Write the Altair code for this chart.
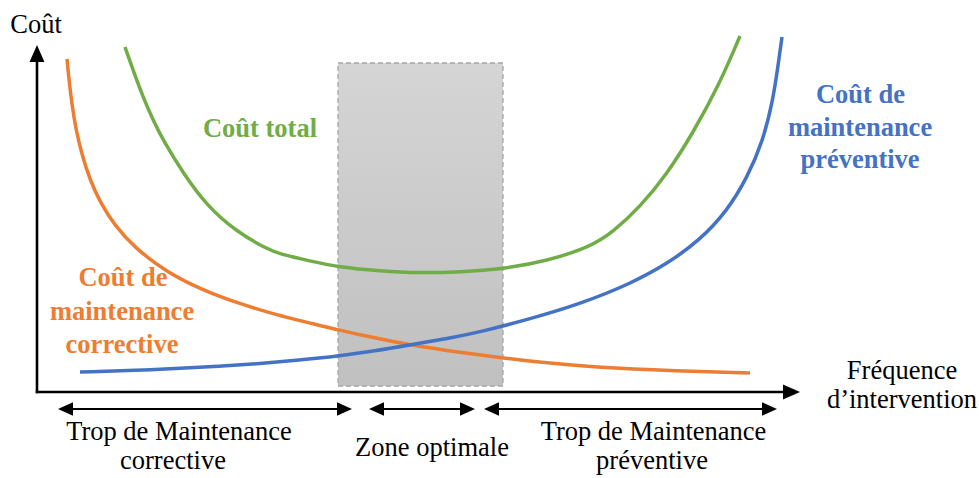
import altair as alt
import pandas as pd

# ---- curves (f = intervention frequency, c = cost) ----
orange_f = [30, 32, 35, 39, 45, 53, 63, 78, 98, 128, 163, 200, 240, 273, 301, 338, 373, 413, 443, 466, 483, 543, 610, 713]
orange_c = [333, 312, 287, 262, 237, 212, 190, 166, 144, 121, 103, 89, 77, 69, 62, 54, 47, 41, 37, 34, 32, 26, 22, 19]

blue_f = [43, 113, 183, 243, 283, 301, 338, 373, 413, 443, 493, 543, 593, 630, 663, 690, 710, 726, 736, 741, 745]
blue_c = [20, 22, 25.5, 30, 34, 36, 41, 47, 54, 60, 73, 88, 108, 128, 152, 181, 214, 251, 292, 326, 355]

green_f = [88, 96, 106, 116, 126, 146, 170, 200, 230, 243, 273, 301, 343, 383, 423, 466, 510, 553, 576, 603, 630, 656, 683, 703]
green_c = [345, 322, 295, 272, 252, 219, 186, 160, 143, 138, 131, 125, 121, 119, 120, 123, 131, 145, 160, 185, 218, 259, 309, 356]

# optimal zone
zone_f = [301, 466]
zone_c = [6, 329]

# axes extent (tips)
x_axis_tip = 763
y_axis_tip = 347

# bottom range arrows (start, end) at level c
range_level = -17
range_starts = [21, 332, 447]
range_ends = [315, 438, 740]

# text labels
txt_plain = ["Coût", "Fréquence", "d’intervention", "Trop de Maintenance", "corrective",
             "Zone optimale", "Trop de Maintenance", "préventive"]
txt_plain_f = [-1, 865, 865, 142, 136, 395, 616.5, 615]
txt_plain_c = [359, 13, -16, -48, -77, -64, -48, -77]

txt_bold = ["Coût total", "Coût de", "maintenance", "préventive", "Coût de", "maintenance", "corrective"]
txt_bold_f = [223, 823.5, 823, 823, 86, 85, 85]
txt_bold_c = [255, 289, 256, 224, 106, 72, 39]
txt_bold_col = ["#70AD47", "#4472C4", "#4472C4", "#4472C4", "#ED7D31", "#ED7D31", "#ED7D31"]

ORANGE, BLUE, GREEN = "#ED7D31", "#4472C4", "#70AD47"
FONT = "Liberation Serif"

xs = alt.Scale(domain=[-37, 942], nice=False, zero=False)
ys = alt.Scale(domain=[-86, 392], nice=False, zero=False)
X = alt.X("f:Q", scale=xs, axis=None)
Y = alt.Y("c:Q", scale=ys, axis=None)

# zone rect
zone_df = pd.DataFrame({"f": [zone_f[0]], "f2": [zone_f[1]], "c": [zone_c[0]], "c2": [zone_c[1]]})
zone = alt.Chart(zone_df).mark_rect(
    fill=alt.Gradient(
        gradient="linear",
        stops=[alt.GradientStop(color="#d5d5d5", offset=0),
               alt.GradientStop(color="#c0c0c0", offset=1)],
        x1=0, x2=0, y1=0, y2=1),
    stroke="#a6a6a6", strokeDash=[5, 3], strokeWidth=1.3
).encode(x=X, x2="f2:Q", y=Y, y2="c2:Q")

def curve(fs, cs, color):
    df = pd.DataFrame({"f": fs, "c": cs})
    return alt.Chart(df).mark_line(interpolate="basis", strokeWidth=3.5, color=color,
                                   strokeCap="butt").encode(x=X, y=Y)

orange = curve(orange_f, orange_c, ORANGE)
blue = curve(blue_f, blue_c, BLUE)
green = curve(green_f, green_c, GREEN)

# axes
AX_HEAD = 8.5
axes_df = pd.DataFrame({
    "f": [-1.2, 0], "f2": [x_axis_tip - AX_HEAD, 0],
    "c": [0, -1.2], "c2": [0, y_axis_tip - AX_HEAD],
})
axes = alt.Chart(axes_df).mark_rule(color="black", strokeWidth=2.6).encode(
    x=X, x2="f2:Q", y=Y, y2="c2:Q")

RIGHT = "M1,0L-1,-0.9L-1,0.9Z"
LEFT = "M-1,0L1,-0.9L1,0.9Z"
UP = "M0,-1L0.88,1L-0.88,1Z"
RIGHT_AX = "M1,0L-1,-0.88L-1,0.88Z"

head_x = alt.Chart(pd.DataFrame({"f": [x_axis_tip - AX_HEAD], "c": [0]})).mark_point(
    shape=RIGHT_AX, filled=True, size=(2 * AX_HEAD) ** 2, color="black", opacity=1).encode(x=X, y=Y)
head_y = alt.Chart(pd.DataFrame({"f": [0], "c": [y_axis_tip - AX_HEAD]})).mark_point(
    shape=UP, filled=True, size=(2 * AX_HEAD) ** 2, color="black", opacity=1).encode(x=X, y=Y)

# range arrows
RH = 7.5
rng_df = pd.DataFrame({
    "f": [s + RH for s in range_starts],
    "f2": [e - RH for e in range_ends],
    "c": [range_level] * len(range_starts),
})
rng = alt.Chart(rng_df).mark_rule(color="black", strokeWidth=2.2).encode(x=X, x2="f2:Q", y=Y)
rh_right = alt.Chart(pd.DataFrame({"f": [e - RH for e in range_ends], "c": [range_level] * 3})).mark_point(
    shape=RIGHT, filled=True, size=(2 * RH) ** 2, color="black", opacity=1).encode(x=X, y=Y)
rh_left = alt.Chart(pd.DataFrame({"f": [s + RH for s in range_starts], "c": [range_level] * 3})).mark_point(
    shape=LEFT, filled=True, size=(2 * RH) ** 2, color="black", opacity=1).encode(x=X, y=Y)

# texts
plain_df = pd.DataFrame({"f": txt_plain_f, "c": txt_plain_c, "t": txt_plain})
plain = alt.Chart(plain_df).mark_text(font=FONT, fontSize=26.5, align="center",
                                      baseline="alphabetic", color="black").encode(
    x=X, y=Y, text="t:N")

bold_df = pd.DataFrame({"f": txt_bold_f, "c": txt_bold_c, "t": txt_bold, "col": txt_bold_col})
bold = alt.Chart(bold_df).mark_text(font=FONT, fontSize=26.5, fontWeight="bold", align="center",
                                    baseline="alphabetic").encode(
    x=X, y=Y, text="t:N", color=alt.Color("col:N", scale=None))

chart = alt.layer(zone, orange, blue, green, axes, head_x, head_y, rng, rh_right, rh_left,
                  plain, bold).properties(
    width=979, height=478, autosize=alt.AutoSizeParams(type="none"), padding=0
).configure_view(stroke=None)

chart.save("out.html", embed_options={"renderer": "svg", "actions": False})
